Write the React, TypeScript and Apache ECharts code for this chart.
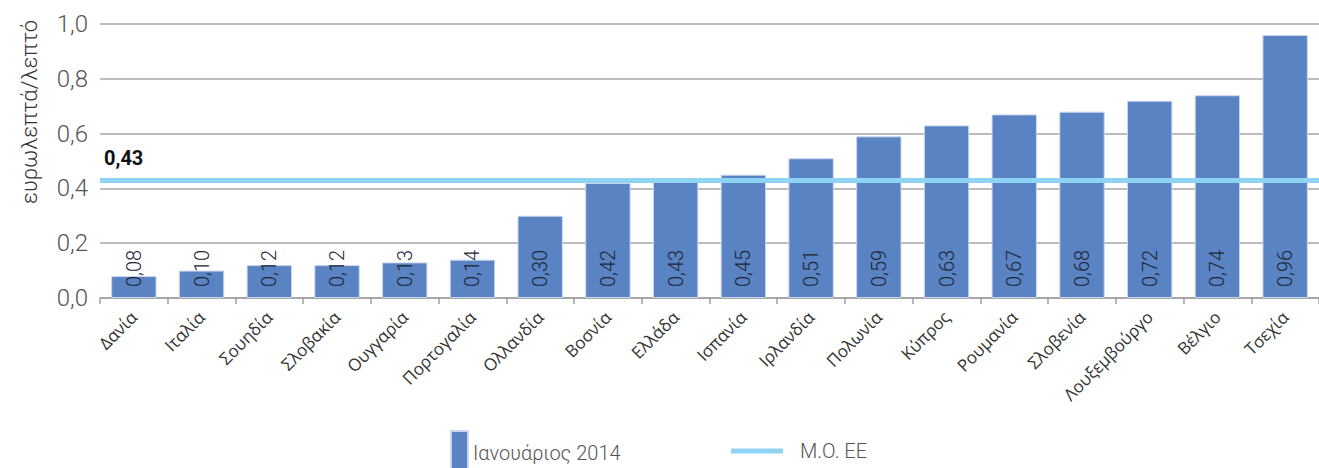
import React, { useEffect, useRef } from "react";
import * as echarts from "echarts";

// Τιμές ανά χώρα (ευρωλεπτά/λεπτό), Ιανουάριος 2014
const categories = [
  "Δανία",
  "Ιταλία",
  "Σουηδία",
  "Σλοβακία",
  "Ουγγαρία",
  "Πορτογαλία",
  "Ολλανδία",
  "Βοσνία",
  "Ελλάδα",
  "Ισπανία",
  "Ιρλανδία",
  "Πολωνία",
  "Κύπρος",
  "Ρουμανία",
  "Σλοβενία",
  "Λουξεμβούργο",
  "Βέλγιο",
  "Τσεχία",
];
const values = [
  0.08, 0.1, 0.12, 0.12, 0.13, 0.14, 0.3, 0.42, 0.43, 0.45, 0.51, 0.59, 0.63,
  0.67, 0.68, 0.72, 0.74, 0.96,
];
const euAverage = 0.43;
const yTicks = [0, 0.2, 0.4, 0.6, 0.8, 1.0];

const barName = "Ιανουάριος 2014";
const lineName = "Μ.Ο. ΕΕ";
const axisTitle = "ευρωλεπτά/λεπτό";

const BAR_COLOR = "#5a83c3";
const LINE_COLOR = "#8fd4f4";
const NUM_FONT = "Roboto";
const TEXT_FONT = "'Open Sans', 'Noto Sans', sans-serif";

const fmt = (v: number, d: number) => v.toFixed(d).replace(".", ",");

export default function App() {
  const ref = useRef<HTMLDivElement>(null);

  useEffect(() => {
    if (!ref.current) return;
    const chart = echarts.init(ref.current, undefined, { renderer: "svg" });
    const legendText = {
      fontFamily: NUM_FONT,
      fontWeight: 300,
      fontSize: 20,
      color: "#555555",
    };
    chart.setOption({
      animation: false,
      backgroundColor: "#ffffff",
      grid: { left: 100, right: -6, top: 24, bottom: 170, containLabel: false },
      legend: [
        {
          data: [{ name: barName, icon: "rect" }],
          left: 450,
          top: 430,
          padding: 0,
          itemWidth: 17,
          itemHeight: 44,
          textStyle: legendText,
        },
        {
          data: [{ name: lineName, icon: "rect", itemStyle: { color: LINE_COLOR } }],
          left: 731,
          top: 441,
          padding: 0,
          itemWidth: 52,
          itemHeight: 5,
          textStyle: { ...legendText, padding: [0, 0, 0, 12] },
        },
      ],
      xAxis: {
        type: "category",
        data: categories,
        boundaryGap: true,
        axisLine: { show: true, lineStyle: { color: "#a0a0a0", width: 1.5 } },
        axisTick: {
          show: true,
          alignWithLabel: false,
          length: 6,
          lineStyle: { color: "#a0a0a0", width: 1.5 },
        },
        axisLabel: {
          rotate: 45,
          interval: 0,
          margin: 16,
          fontFamily: TEXT_FONT,
          fontSize: 17,
          color: "#333333",
        },
      },
      yAxis: {
        type: "value",
        min: 0,
        max: 1,
        interval: 0.2,
        axisLine: { show: false },
        axisTick: { show: false },
        splitLine: { lineStyle: { color: "#a6a6a6", width: 1.5 } },
        axisLabel: {
          margin: 12,
          fontFamily: NUM_FONT,
          fontWeight: 300,
          fontSize: 24,
          color: "#555555",
          formatter: (v: number) =>
            yTicks.some((t) => Math.abs(t - v) < 1e-9) ? fmt(v, 1) : "",
        },
      },
      series: [
        {
          name: barName,
          type: "bar",
          data: values,
          barWidth: "67%",
          itemStyle: { color: BAR_COLOR, borderColor: "#c9d6ee", borderWidth: 1 },
          label: {
            show: true,
            position: "insideBottom",
            rotate: 90,
            align: "left",
            verticalAlign: "middle",
            distance: 11,
            fontFamily: NUM_FONT,
            fontWeight: 300,
            fontSize: 20,
            color: "#1c2533",
            formatter: (p: any) => fmt(p.value, 2),
          },
          z: 2,
        },
        {
          name: lineName,
          type: "line",
          data: [],
          color: LINE_COLOR,
          lineStyle: { color: LINE_COLOR, width: 5 },
          z: 3,
          markLine: {
            silent: true,
            symbol: "none",
            lineStyle: { color: LINE_COLOR, width: 5, type: "solid" },
            label: {
              show: true,
              position: "insideStartTop",
              distance: [4, 12],
              fontFamily: NUM_FONT,
              fontWeight: "bold",
              fontSize: 20,
              color: "#111111",
              formatter: (p: any) => fmt(p.value, 2),
            },
            data: [{ yAxis: euAverage }],
          },
        },
      ],
      graphic: [
        {
          type: "text",
          x: 29,
          y: 112,
          rotation: Math.PI / 2,
          style: {
            text: axisTitle,
            fontFamily: NUM_FONT,
            fontWeight: 300,
            fontSize: 22,
            fill: "#333333",
            align: "center",
            verticalAlign: "middle",
          },
        },
      ],
    });
    return () => chart.dispose();
  }, []);

  return (
    <div
      ref={ref}
      style={{ position: "absolute", left: 0, top: 0, width: 1319, height: 468 }}
    />
  );
}
